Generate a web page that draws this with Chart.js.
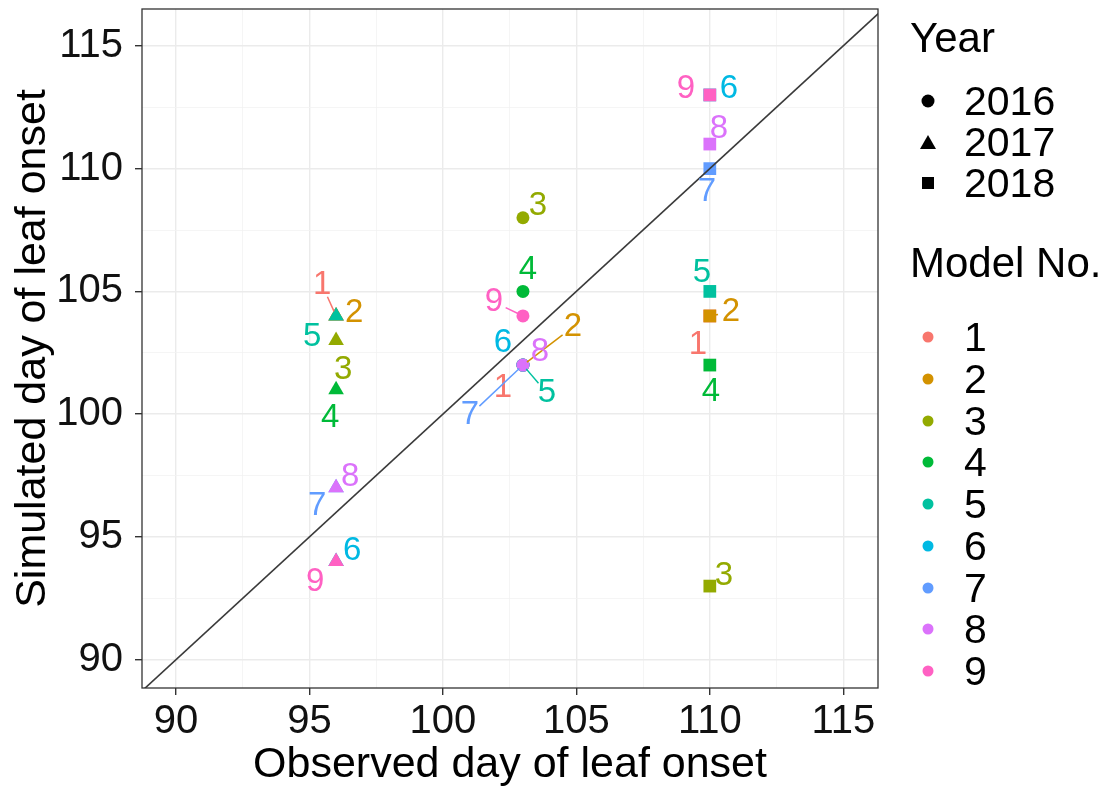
<!DOCTYPE html>
<html>
<head>
<meta charset="utf-8">
<script src="https://cdn.jsdelivr.net/npm/chart.js@4.4.1/dist/chart.umd.min.js"></script>
<style>
  html, body { margin: 0; padding: 0; background: #fff; }
  #wrap { position: relative; width: 1108px; height: 791px; font-family: "Liberation Sans", Arial, sans-serif; color: #000; }
  #chart { position: absolute; left: 0; top: 0; }
  .lg { position: absolute; line-height: 1; transform: translateY(-50%); white-space: nowrap; }
  .ttl { font-size: 42px; }
  .lab { font-size: 41px; }
  .sym { position: absolute; transform: translate(-50%, -50%); }
</style>
</head>
<body>
<div id="wrap">
  <canvas id="chart" width="1108" height="791"></canvas>
  <div id="legend"></div>
</div>
<script>
// --- datos ---
const models = ['1', '2', '3', '4', '5', '6', '7', '8', '9'];
const years = ['2016', '2017', '2018'];
const observed = [103, 96, 110];           // dia observado por año
const sim2016 = [102, 102, 108, 105, 102, 102, 102, 102, 104];
const sim2017 = [104, 104, 103, 101, 104, 94, 97, 97, 94];
const sim2018 = [104, 104, 93, 102, 105, 113, 110, 111, 113];
const majorTicks = [90, 95, 100, 105, 110, 115];
const minorTicks = [92.5, 97.5, 102.5, 107.5, 112.5];
const refLine = [85, 120];                 // linea 1:1

// --- estilo ---
const colors = ['#F8766D', '#D39200', '#93AA00', '#00BA38', '#00C19F', '#00B9E3', '#619CFF', '#DB72FB', '#FF61C3'];
const shapes = ['circle', 'triangle', 'rect'];
const radii = [6.5, 9, 9];
const FONT = '"Liberation Sans", Arial, sans-serif';

// desplazamiento de etiquetas (px) [dx, dy, segmento]
const labelOffsets = {
  '2016': [[-20, 23, 0], [50, -38, 1], [15, -12, 0], [5, -21, 0], [24, 28, 1], [-20, -22, 0], [-53, 50, 1], [17, -13, 0], [-29, -14, 1]],
  '2017': [[-14, -31, 1], [18, -3, 0], [7, 29, 0], [-6, 28, 0], [-24, 21, 0], [16, -11, 0], [-19, 18, 0], [14, -11, 0], [-21, 20, 0]],
  '2018': [[-12, 29, 0], [21, -4, 1], [14, -10, 0], [1, 27, 0], [-8, -18, 0], [19, -6, 0], [-3, 23, 0], [9, -15, 0], [-24, -6, 0]]
};

const sims = [sim2016, sim2017, sim2018];
const allTicks = majorTicks.concat(minorTicks).sort((a, b) => a - b);
const isMajor = v => majorTicks.includes(v);

const datasets = models.map((m, i) => ({
  label: m,
  data: years.map((yr, j) => ({ x: observed[j], y: sims[j][i] })),
  backgroundColor: colors[i],
  borderWidth: 0,
  pointStyle: shapes,
  pointRadius: radii,
  pointHoverRadius: radii,
  order: 9 - i
}));
datasets.push({
  type: 'line',
  label: '1:1',
  data: refLine.map(v => ({ x: v, y: v })),
  borderColor: '#3a3a3a',
  borderWidth: 1.6,
  pointRadius: 0,
  order: -1
});

// etiquetas tipo ggrepel
const labelPlugin = {
  id: 'pointLabels',
  afterDatasetsDraw(chart) {
    const ctx = chart.ctx;
    ctx.save();
    ctx.font = '33px ' + FONT;
    ctx.textAlign = 'center';
    ctx.textBaseline = 'middle';
    models.forEach((m, i) => {
      const meta = chart.getDatasetMeta(i);
      years.forEach((yr, j) => {
        const pt = meta.data[j];
        const [dx, dy, seg] = labelOffsets[yr][i];
        const lx = pt.x + dx, ly = pt.y + dy;
        if (seg) {
          const len = Math.hypot(dx, dy);
          const ux = dx / len, uy = dy / len;
          ctx.strokeStyle = colors[i];
          ctx.lineWidth = 1.5;
          ctx.beginPath();
          ctx.moveTo(pt.x + ux * 5, pt.y + uy * 5);
          ctx.lineTo(lx - ux * 13, ly - uy * 13);
          ctx.stroke();
        }
        ctx.fillStyle = colors[i];
        ctx.fillText(m, lx, ly);
      });
    });
    ctx.restore();
  },
  afterDraw(chart) {
    const a = chart.chartArea;
    const ctx = chart.ctx;
    ctx.save();
    ctx.strokeStyle = '#333';
    ctx.lineWidth = 1.3;
    ctx.strokeRect(a.left, a.top, a.right - a.left, a.bottom - a.top);
    ctx.restore();
  }
};

function axis(min, max, title, fitProp, fitVal, pad) {
  return {
    type: 'linear',
    min: min,
    max: max,
    afterBuildTicks: s => { s.ticks = allTicks.map(v => ({ value: v })); },
    afterFit: s => {
      s[fitProp] = fitVal;
      // sin margen extra por las etiquetas de los extremos
      s.paddingTop = 0; s.paddingBottom = 0;
    },
    ticks: {
      autoSkip: false,
      maxRotation: 0,
      padding: pad,
      color: '#111',
      font: { family: FONT, size: 40 },
      callback: v => isMajor(v) ? String(v) : ''
    },
    grid: {
      color: c => isMajor(c.tick.value) ? '#EBEBEB' : '#F3F3F3',
      lineWidth: c => isMajor(c.tick.value) ? 1.4 : 0.8,
      tickColor: c => isMajor(c.tick.value) ? '#333' : 'rgba(0,0,0,0)',
      tickLength: 7,
      drawTicks: true
    },
    border: { display: false },
    title: {
      display: true,
      text: title,
      color: '#000',
      font: { family: FONT, size: 43 },
      padding: 0
    }
  };
}

new Chart(document.getElementById('chart'), {
  type: 'scatter',
  data: { datasets: datasets },
  options: {
    responsive: false,
    devicePixelRatio: 1,
    animation: false,
    layout: { padding: { top: 8, right: 230, bottom: 0, left: 7 } },
    plugins: { legend: { display: false }, tooltip: { enabled: false } },
    scales: {
      x: axis(88.73, 116.3, 'Observed day of leaf onset', 'height', 103, 3),
      y: axis(88.85, 116.5, 'Simulated day of leaf onset', 'width', 135, 12)
    }
  },
  plugins: [labelPlugin]
});

// --- leyenda (HTML) ---
const legend = document.getElementById('legend');
function add(html) { legend.insertAdjacentHTML('beforeend', html); }
add('<div class="lg ttl" style="left:910px;top:38px">Year</div>');
const yearRows = [101, 142, 183];
const yearSyms = [
  'width:13px;height:13px;border-radius:50%;background:#000',
  'width:0;height:0;border-left:8px solid transparent;border-right:8px solid transparent;border-bottom:14px solid #000',
  'width:12px;height:12px;background:#000'
];
years.forEach((yr, j) => {
  add('<div class="sym" style="left:928px;top:' + yearRows[j] + 'px;' + yearSyms[j] + '"></div>');
  add('<div class="lg lab" style="left:964px;top:' + yearRows[j] + 'px">' + yr + '</div>');
});
add('<div class="lg ttl" style="left:910px;top:263px">Model No.</div>');
models.forEach((m, i) => {
  const y = 337 + i * 41.75;
  add('<div class="sym" style="left:928px;top:' + y + 'px;width:11px;height:11px;border-radius:50%;background:' + colors[i] + '"></div>');
  add('<div class="lg lab" style="left:964px;top:' + y + 'px">' + m + '</div>');
});
</script>
</body>
</html>
